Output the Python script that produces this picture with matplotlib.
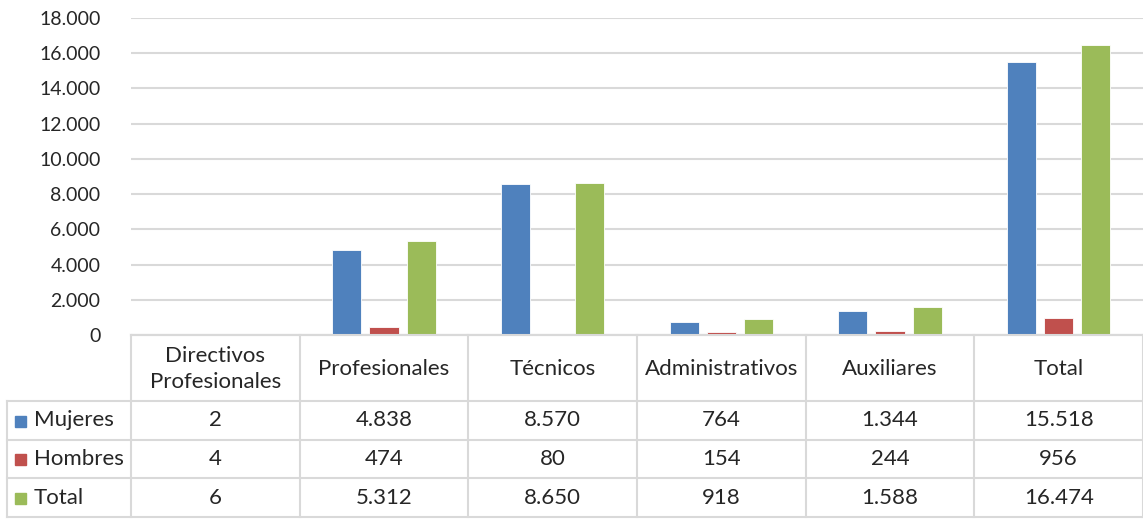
import numpy as np
import matplotlib.pyplot as plt
from matplotlib.patches import Rectangle

plt.rcParams['font.family'] = ['Lato', 'DejaVu Sans']

categorias = ['Directivos\nProfesionales', 'Profesionales', 'Técnicos',
              'Administrativos', 'Auxiliares', 'Total']
series = ['Mujeres', 'Hombres', 'Total']
mujeres = [2, 4838, 8570, 764, 1344, 15518]
hombres = [4, 474, 80, 154, 244, 956]
total = [6, 5312, 8650, 918, 1588, 16474]
colores = ['#4F81BD', '#C0504D', '#9BBB59']
gris = '#d9d9d9'

W, H = 1143, 521
fig = plt.figure(figsize=(W / 100, H / 100), dpi=100)

# grafico de barras
ax = fig.add_axes([131 / W, (H - 335) / H, (W - 131) / W, (335 - 18) / H])
x = np.arange(len(categorias))
ancho = 0.172
paso = 0.22
for i, (datos, color) in enumerate(zip([mujeres, hombres, total], colores)):
    ax.bar(x + (i - 1) * paso, datos, width=ancho, color=color,
           edgecolor='white', linewidth=0.6, zorder=3)
ax.set_xlim(-0.5, len(categorias) - 0.5)
ax.set_ylim(0, 18000)
ax.set_yticks(np.arange(0, 18001, 2000))
ax.set_yticklabels([f'{v:,}'.replace(',', '.') for v in range(0, 18001, 2000)])
ax.tick_params(axis='y', length=0, pad=22, labelsize=14, colors='#262626')
ax.tick_params(axis='x', length=0, labelbottom=False)
ax.grid(axis='y', color=gris, linewidth=1.5, zorder=0)
for s in ['top', 'right', 'left']:
    ax.spines[s].set_visible(False)
ax.spines['bottom'].set_color(gris)
ax.spines['bottom'].set_linewidth(1.5)

# tabla de datos
tb = fig.add_axes([0, 0, 1, 1])
tb.set_xlim(0, W)
tb.set_ylim(H, 0)
tb.axis('off')
x0, x1, x_end = 7, 131, W
col_w = (x_end - x1) / len(categorias)
filas_y = [335, 401, 440, 478, 517]
lc = dict(color=gris, linewidth=1.5)
tb.plot([x1, x_end], [filas_y[0]] * 2, **lc)
for yy in filas_y[1:]:
    tb.plot([x0, x_end], [yy] * 2, **lc)
tb.plot([x0, x0], [filas_y[1], filas_y[-1]], **lc)
for j in range(len(categorias) + 1):
    xx = x1 + j * col_w
    tb.plot([xx, xx], [filas_y[0], filas_y[-1]], **lc)

fs = 16
for j, cat in enumerate(categorias):
    cx = x1 + (j + 0.5) * col_w
    tb.text(cx, (filas_y[0] + filas_y[1]) / 2 + 1, cat, ha='center', va='center',
            fontsize=fs, color='#262626', linespacing=1.35)

for i, (nombre, datos, color) in enumerate(zip(series, [mujeres, hombres, total], colores)):
    cy = (filas_y[i + 1] + filas_y[i + 2]) / 2
    tb.add_patch(Rectangle((15, cy - 5), 11, 11, color=color))
    tb.text(34, cy, nombre, ha='left', va='center', fontsize=fs, color='#262626')
    for j, v in enumerate(datos):
        cx = x1 + (j + 0.5) * col_w
        tb.text(cx, cy, f'{v:,}'.replace(',', '.'), ha='center', va='center',
                fontsize=fs, color='#262626')

fig.savefig('out.png', dpi=100)
